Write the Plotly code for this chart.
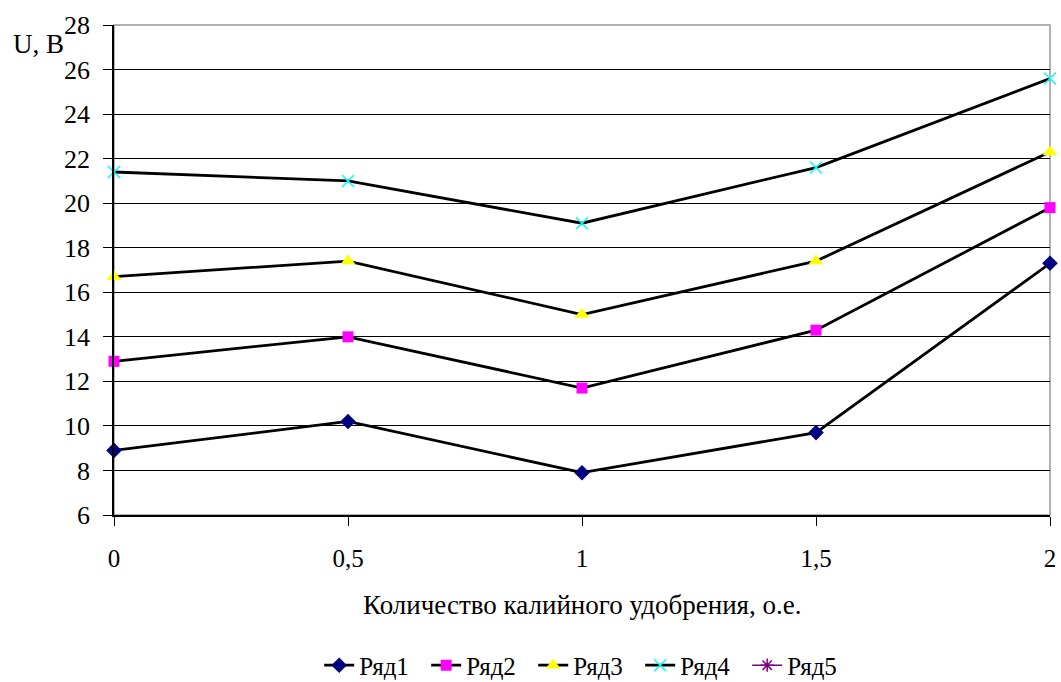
import plotly.graph_objects as go

# Potassium fertilizer amount (relative units)
x_vals = [0, 0.5, 1, 1.5, 2]
x_tick_text = ["0", "0,5", "1", "1,5", "2"]

# Voltage readings per series
ryad1 = [8.9, 10.2, 7.9, 9.7, 17.3]
ryad2 = [12.9, 14.0, 11.7, 14.3, 19.8]
ryad3 = [16.7, 17.4, 15.0, 17.4, 22.3]
ryad4 = [21.4, 21.0, 19.1, 21.6, 25.6]
ryad5 = [None, None, None, None, None]

y_ticks = [6, 8, 10, 12, 14, 16, 18, 20, 22, 24, 26, 28]

FONT = "Liberation Serif"

fig = go.Figure()

series = [
    ("Ряд1", ryad1, dict(symbol="diamond", size=12, color="#000080")),
    ("Ряд2", ryad2, dict(symbol="square", size=11, color="#FF00FF")),
    ("Ряд3", ryad3, dict(symbol="triangle-up", size=13, color="#FFFF00")),
    ("Ряд4", ryad4, dict(symbol="x-thin", size=12, color="#00FFFF",
                         line=dict(color="#00FFFF", width=1.5))),
]

for name, ys, marker in series:
    fig.add_trace(go.Scatter(
        x=x_vals, y=ys, name=name, mode="lines+markers",
        line=dict(color="black", width=2.8),
        marker=marker, cliponaxis=False,
    ))

fig.add_trace(go.Scatter(
    x=x_vals, y=ryad5, name="Ряд5", mode="lines+markers",
    line=dict(color="#800080", width=1.5),
    marker=dict(symbol="asterisk-open", size=11,
                line=dict(color="#800080", width=1.5)),
))

# Light frame around the plotting area
fig.add_shape(type="rect", xref="paper", yref="paper", x0=0, x1=1, y0=0, y1=1,
              line=dict(color="#999999", width=1.5), layer="below")

fig.add_annotation(text="U, B", xref="paper", yref="paper", x=-0.11, y=0.962,
                   xanchor="left", yanchor="middle", showarrow=False,
                   font=dict(family=FONT, size=27, color="black"))

fig.add_annotation(text="Количество калийного удобрения, о.е.", xref="paper",
                   yref="paper", x=0.5, y=-0.183, xanchor="center",
                   yanchor="middle", showarrow=False,
                   font=dict(family=FONT, size=27, color="black"))

fig.update_xaxes(
    range=[0, 2], tickvals=x_vals, ticktext=x_tick_text,
    showgrid=False, zeroline=False, showline=True, linecolor="black",
    linewidth=1.5, ticks="outside", ticklen=9, tickcolor="black",
    ticklabelstandoff=11,
    tickfont=dict(family=FONT, size=25, color="black"),
)
fig.update_yaxes(
    range=[6, 28], tickvals=y_ticks,
    showgrid=True, gridcolor="black", gridwidth=1, zeroline=False,
    showline=True, linecolor="black", linewidth=1.5,
    ticks="outside", ticklen=9, tickcolor="black",
    ticklabelstandoff=8,
    tickfont=dict(family=FONT, size=26, color="black"),
)

fig.update_layout(
    width=1061, height=682,
    margin=dict(l=114, r=11, t=25, b=167, autoexpand=False),
    plot_bgcolor="white", paper_bgcolor="white",
    showlegend=True,
    legend=dict(orientation="h", x=0.505, y=-0.307, xanchor="center",
                yanchor="middle", font=dict(family=FONT, size=25, color="black"),
                itemwidth=30, entrywidth=62, entrywidthmode="pixels",
                tracegroupgap=0),
)

fig.write_html("out.html")
